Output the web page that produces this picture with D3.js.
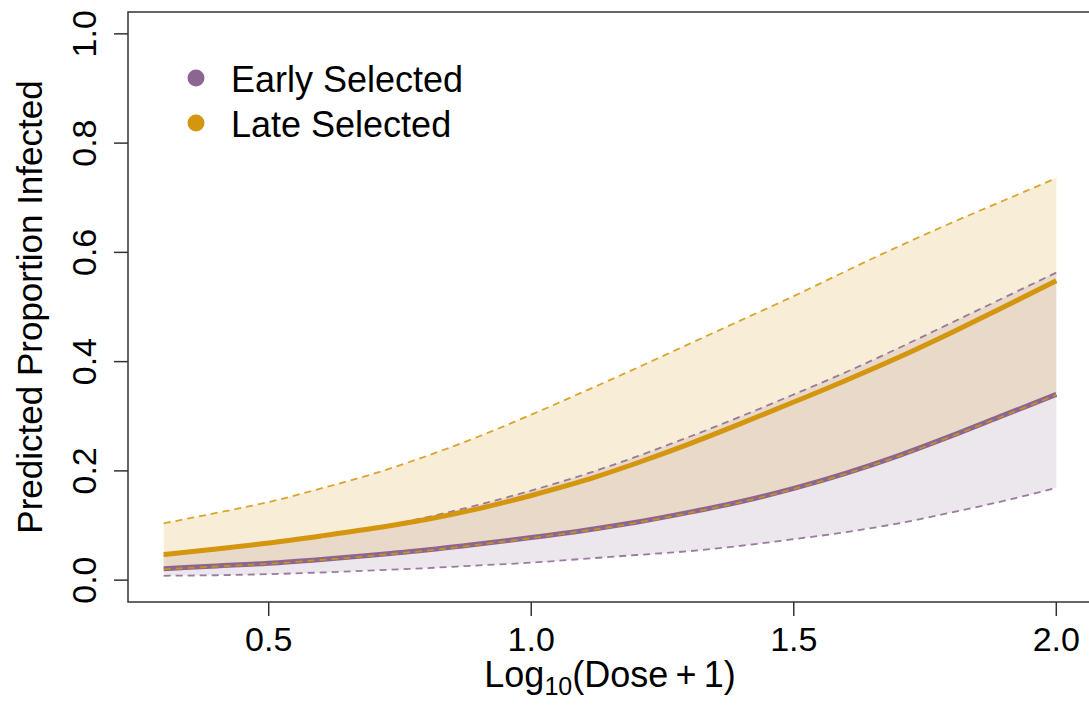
<!DOCTYPE html>
<meta charset="utf-8">
<head>
	<script src="https://d3js.org/d3.v7.min.js"></script>
	<style>
		body {
			margin: 0;
			background: #fff;
		}
		svg text {
			font-family: "Liberation Sans", Arial, sans-serif;
			fill: #000;
		}
		.frame {
			fill: none;
			stroke: #333;
			stroke-width: 1.5px;
		}
		.tick-line {
			stroke: #333;
			stroke-width: 1.5px;
		}
	</style>
</head>

<body>
	<div id="chart"></div>
</body>

<script type="text/javascript">

	// log10(dose + 1) values the curves were read at
	var doses = [0.3, 0.4, 0.5, 0.6, 0.7, 0.8, 0.9, 1.0, 1.1, 1.2, 1.3, 1.4, 1.5, 1.6, 1.7, 1.8, 1.9, 2.0];

	var earlyMean  = [0.021, 0.026, 0.031, 0.038, 0.046, 0.055, 0.066, 0.078, 0.091, 0.106, 0.124, 0.144, 0.168, 0.196, 0.228, 0.264, 0.302, 0.340];
	var earlyLower = [0.008, 0.009, 0.011, 0.014, 0.018, 0.022, 0.027, 0.032, 0.039, 0.046, 0.053, 0.063, 0.075, 0.088, 0.104, 0.124, 0.145, 0.169];
	var earlyUpper = [0.045, 0.055, 0.066, 0.079, 0.095, 0.115, 0.138, 0.164, 0.193, 0.226, 0.262, 0.300, 0.340, 0.381, 0.425, 0.471, 0.517, 0.563];

	var lateMean  = [0.047, 0.057, 0.068, 0.081, 0.095, 0.111, 0.131, 0.155, 0.182, 0.214, 0.249, 0.287, 0.326, 0.366, 0.408, 0.453, 0.500, 0.548];
	var lateLower = [0.020, 0.025, 0.030, 0.037, 0.045, 0.054, 0.065, 0.077, 0.090, 0.105, 0.123, 0.143, 0.167, 0.195, 0.227, 0.263, 0.301, 0.339];
	var lateUpper = [0.104, 0.123, 0.143, 0.168, 0.195, 0.227, 0.263, 0.303, 0.345, 0.388, 0.432, 0.476, 0.520, 0.566, 0.611, 0.654, 0.695, 0.736];

	var xTicks = [0.5, 1.0, 1.5, 2.0];
	var yTicks = [0.0, 0.2, 0.4, 0.6, 0.8, 1.0];
	var legendLabels = ["Early Selected", "Late Selected"];

	var purple = "#8b6690",
		gold = "#d4960e";

	var W = 1089, H = 707;

	var svg = d3.select("#chart").append("svg")
		.attr("width", W)
		.attr("height", H);

	// R style 4% padding around the data range
	var x = d3.scaleLinear()
		.domain([0.232, 2.068])
		.range([128, 1092]);

	var y = d3.scaleLinear()
		.domain([-0.04, 1.04])
		.range([602, 12]);

	function band(lo, hi) {
		return d3.area()
			.x(function(d, i) { return x(doses[i]); })
			.y0(function(d, i) { return y(lo[i]); })
			.y1(function(d, i) { return y(hi[i]); })
			.curve(d3.curveMonotoneX)(doses);
	}

	function line(vals) {
		return d3.line()
			.x(function(d, i) { return x(doses[i]); })
			.y(function(d, i) { return y(vals[i]); })
			.curve(d3.curveMonotoneX)(doses);
	}

	// confidence bands
	svg.append("path")
		.attr("d", band(earlyLower, earlyUpper))
		.style("fill", purple)
		.style("fill-opacity", 0.16);

	svg.append("path")
		.attr("d", band(lateLower, lateUpper))
		.style("fill", gold)
		.style("fill-opacity", 0.16);

	// lines: [values, colour, width, dashed]
	var lines = [
		[earlyMean, purple, 5, false],
		[earlyLower, purple, 1.8, true],
		[earlyUpper, purple, 1.8, true],
		[lateMean, gold, 5, false],
		[lateLower, gold, 1.8, true],
		[lateUpper, gold, 1.8, true]
	];

	lines.forEach(function(l) {
		svg.append("path")
			.attr("d", line(l[0]))
			.style("fill", "none")
			.style("stroke", l[1])
			.style("stroke-width", l[2])
			.style("stroke-opacity", l[3] ? 0.85 : 1)
			.style("stroke-dasharray", l[3] ? "7,5" : null);
	});

	// frame
	svg.append("rect")
		.attr("class", "frame")
		.attr("x", x.range()[0])
		.attr("y", y.range()[1])
		.attr("width", x.range()[1] - x.range()[0])
		.attr("height", y.range()[0] - y.range()[1]);

	// x axis
	var xg = svg.append("g");
	xg.selectAll("line")
		.data(xTicks)
		.enter().append("line")
		.attr("class", "tick-line")
		.attr("x1", function(d) { return x(d); })
		.attr("x2", function(d) { return x(d); })
		.attr("y1", 602)
		.attr("y2", 616);
	xg.selectAll("text")
		.data(xTicks)
		.enter().append("text")
		.attr("x", function(d) { return x(d); })
		.attr("y", 651)
		.style("font-size", "34px")
		.style("text-anchor", "middle")
		.text(d3.format(".1f"));

	// y axis
	var yg = svg.append("g");
	yg.selectAll("line")
		.data(yTicks)
		.enter().append("line")
		.attr("class", "tick-line")
		.attr("x1", 114)
		.attr("x2", 128)
		.attr("y1", function(d) { return y(d); })
		.attr("y2", function(d) { return y(d); });
	yg.selectAll("text")
		.data(yTicks)
		.enter().append("text")
		.attr("transform", function(d) { return "translate(96," + y(d) + ")rotate(-90)"; })
		.style("font-size", "34px")
		.style("text-anchor", "middle")
		.text(d3.format(".1f"));

	// axis titles
	var xt = svg.append("text")
		.attr("x", 610)
		.attr("y", 687)
		.style("font-size", "36px")
		.style("text-anchor", "middle");
	xt.append("tspan").text("Log");
	xt.append("tspan")
		.attr("dy", 8)
		.style("font-size", "25px")
		.text("10");
	xt.append("tspan")
		.attr("dy", -8)
		.text("(Dose\u2009+\u20091)");

	svg.append("text")
		.attr("transform", "translate(42,307)rotate(-90)")
		.style("font-size", "35px")
		.style("text-anchor", "middle")
		.text("Predicted Proportion Infected");

	// legend
	var legend = svg.append("g")
		.selectAll("g")
		.data(legendLabels)
		.enter().append("g")
		.attr("transform", function(d, i) { return "translate(0," + i * 45 + ")"; });

	legend.append("circle")
		.attr("cx", 196)
		.attr("cy", 78)
		.attr("r", 8.5)
		.style("fill", function(d, i) { return i == 0 ? purple : gold; });

	legend.append("text")
		.attr("x", 231)
		.attr("y", 92)
		.style("font-size", "36px")
		.text(function(d) { return d; });
</script>
